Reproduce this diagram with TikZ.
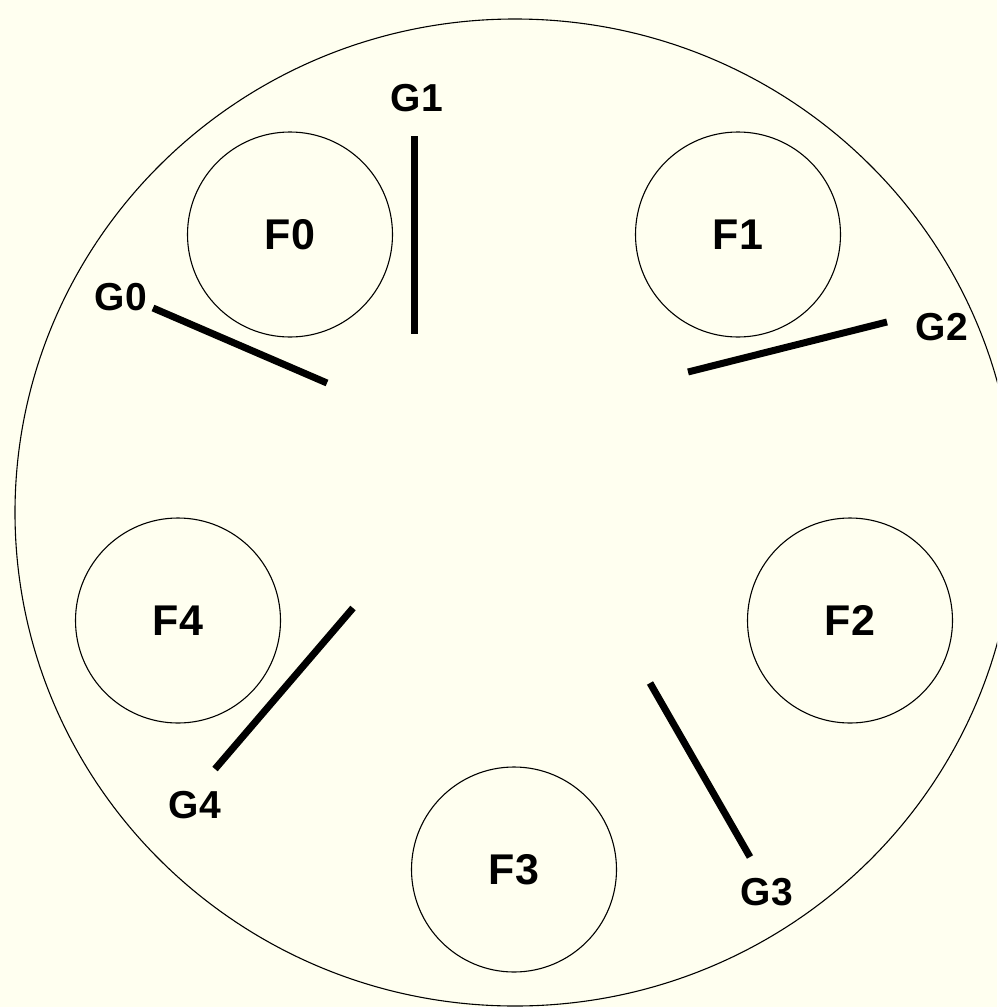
\documentclass[tikz,border=0pt]{standalone}
\usepackage{fontspec}
\setmainfont{Liberation Sans}
\usepackage{xcolor}
\definecolor{paper}{HTML}{FFFFF0}

\begin{document}
\begin{tikzpicture}[x=1pt, y=-1pt,
    phil/.style={circle, draw, line width=1.1pt, minimum size=205pt, inner sep=0pt,
                 font=\fontsize{43}{43}\selectfont\bfseries},
    fork/.style={line width=7pt},
    glabel/.style={inner sep=0pt, font=\fontsize{39}{39}\selectfont\bfseries}
]

  % 背景和桌子
  \fill[paper] (0,0) rectangle (997,1007);
  \useasboundingbox (0,0) rectangle (997,1007);
  \clip (0,0) rectangle (997,1007);
  \draw[line width=1.1pt] (515,512.5) ellipse [x radius=500pt, y radius=493.5pt];

  % 哲学家
  \node[phil] (f0) at (290,234.5) {F0};
  \node[phil] (f1) at (738,234.5) {F1};
  \node[phil] (f2) at (850,620.5) {F2};
  \node[phil] (f3) at (514,869.5) {F3};
  \node[phil] (f4) at (178,620.5) {F4};

  % 叉子的端点
  \coordinate (g0a) at (153,308);
  \coordinate (g0b) at (327,383);
  \coordinate (g1a) at (414,136);
  \coordinate (g1b) at (414,334);
  \coordinate (g2a) at (887,322);
  \coordinate (g2b) at (688,372);
  \coordinate (g3a) at (650,683);
  \coordinate (g3b) at (750,857);
  \coordinate (g4a) at (353,608);
  \coordinate (g4b) at (215,769);

  % 叉子和标签
  \draw[fork] (g0a) -- (g0b);
  \draw[fork] (g1a) -- (g1b);
  \draw[fork] (g2a) -- (g2b);
  \draw[fork] (g3a) -- (g3b);
  \draw[fork] (g4a) -- (g4b);

  \node[glabel] (g0) at (121,297) {G0};
  \node[glabel] (g1) at (417,98) {G1};
  \node[glabel] (g2) at (942,327) {G2};
  \node[glabel] (g3) at (767,892) {G3};
  \node[glabel] (g4) at (195,805) {G4};
\end{tikzpicture}
\end{document}
